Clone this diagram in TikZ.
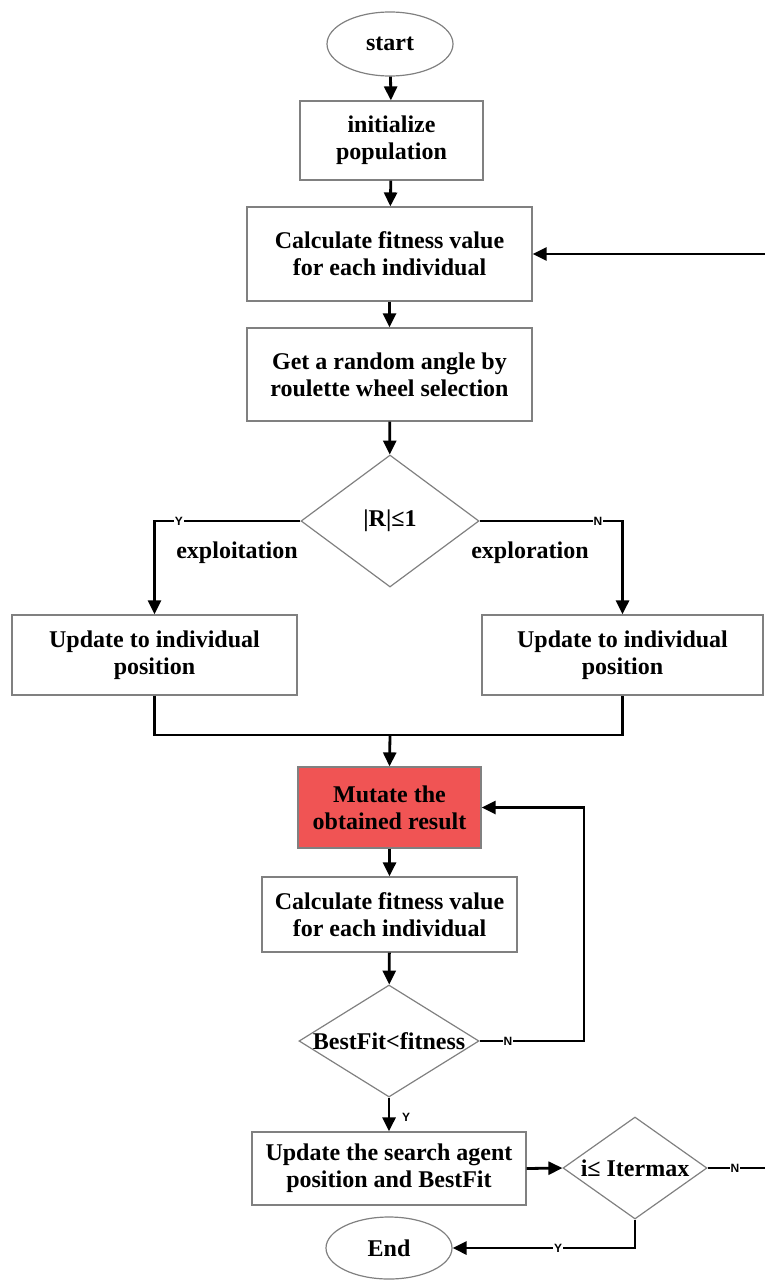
\documentclass[tikz,border=0pt]{standalone}
\usepackage{fontspec}
\setmainfont{Liberation Serif}
\newfontfamily\labfont{Liberation Sans}
\usetikzlibrary{shapes.geometric,arrows.meta}
\definecolor{boxline}{RGB}{128,128,128}
\definecolor{mutred}{RGB}{240,84,84}
\tikzset{
  every node/.style={font=\bfseries\fontsize{24}{27}\selectfont},
  procbox/.style={draw=boxline, line width=1.2pt, rectangle, align=center, inner sep=0pt},
  termin/.style={draw=boxline, line width=1.2pt, ellipse, inner sep=0pt},
  decide/.style={draw=boxline, line width=1.2pt, diamond, inner sep=0pt},
  flow/.style={line width=2.8pt, -{Triangle[length=14pt,width=13pt]}},
  plain/.style={line width=2.8pt},
  yn/.style={font=\labfont\bfseries\fontsize{12}{12}\selectfont, fill=white, inner sep=1pt},
  note/.style={font=\bfseries\fontsize{24}{27}\selectfont}
}
\begin{document}
\begin{tikzpicture}[x=1pt,y=-1pt]
\useasboundingbox (0,0) rectangle (765,1282);

% main column
\node[termin, minimum width=126, minimum height=64] (start) at (390,44) {start};
\node[procbox, minimum width=183, minimum height=79] (init) at (391.5,140.5) {initialize\\population};
\node[procbox, minimum width=285, minimum height=94] (calc1) at (389.5,254) {Calculate fitness value\\for each individual};
\node[procbox, minimum width=285, minimum height=93] (rand) at (389.5,374.5) {Get a random angle by\\roulette wheel selection};
\node[decide, minimum width=178, minimum height=132] (d1) at (390,521) {\makebox[0pt]{|R|≤1}};

% two update branches
\node[procbox, minimum width=285, minimum height=80] (left) at (154.5,655) {Update to individual\\position};
\node[procbox, minimum width=281, minimum height=80] (right) at (622.5,655) {Update to individual\\position};
\node[note] (exploit) at (237,553) {exploitation};
\node[note] (explore) at (530,553) {exploration};

% mutation loop
\node[procbox, fill=mutred, minimum width=183, minimum height=81] (mutate) at (389.5,807.5) {Mutate the\\obtained result};
\node[procbox, minimum width=255, minimum height=75] (calc2) at (389.5,914.5) {Calculate fitness value\\for each individual};
\node[decide, minimum width=180, minimum height=112] (d2) at (389,1041) {\makebox[0pt]{BestFit<fitness}};

% final update and termination
\node[procbox, minimum width=274, minimum height=73] (update) at (389,1168.5) {Update the search agent\\position and BestFit};
\node[decide, minimum width=144, minimum height=102] (d3) at (635,1168) {\makebox[0pt]{i≤ Itermax}};
\node[termin, minimum width=126, minimum height=62] (end) at (389,1248) {End};

% helper points
\coordinate (mj) at (390,735);
\coordinate (fb) at (584,1041);
\coordinate (rt) at (768,1168);

% connectors
\draw[flow] (start) -- (init);
\draw[flow] (init) -- (calc1);
\draw[flow] (calc1) -- (rand);
\draw[flow] (rand) -- (d1);
\draw[flow] (d1.west) -| (left.north);
\draw[flow] (d1.east) -| (right.north);
\draw[plain] (left.south) |- (mj) -| (right.south);
\draw[flow] (mj) -- (mutate.north);
\draw[flow] (mutate) -- (calc2);
\draw[flow] (calc2) -- (d2);
\draw[flow] (d2.east) -- (fb) |- (mutate.east);
\draw[flow] (d2.south) -- (update.north);
\draw[flow] (update.east) -- (d3.west);
\draw[flow] (d3.east) -- (rt) |- (calc1.east);
\draw[flow] (d3.south) |- (end.east);

% branch labels
\node[yn] (y1) at (179,521) {Y};
\node[yn] (n1) at (598,521) {N};
\node[yn] (n2) at (508,1041) {N};
\node[yn, fill=none] (y2) at (406,1117) {Y};
\node[yn] (n3) at (735,1168) {N};
\node[yn] (y3) at (558,1248) {Y};
\end{tikzpicture}
\end{document}
